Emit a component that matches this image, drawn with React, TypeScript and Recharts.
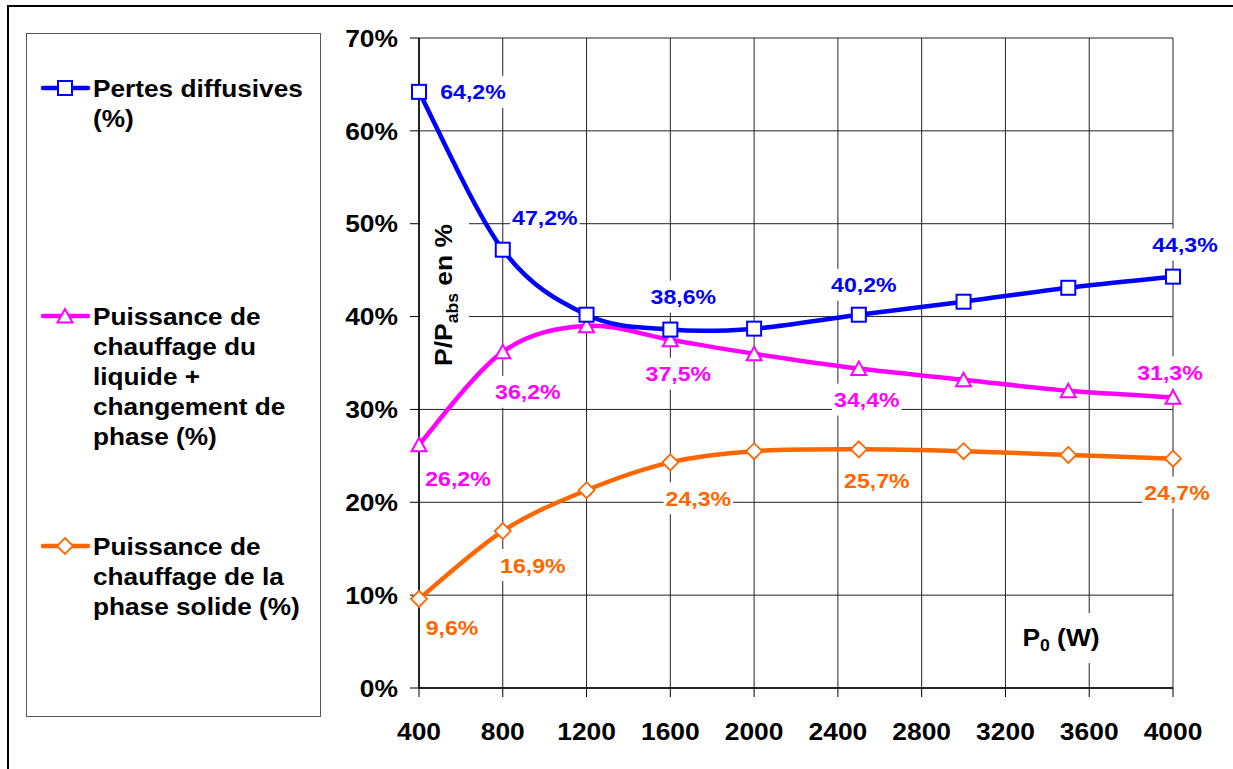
import React from 'react';
import { LineChart, Line, XAxis, YAxis, CartesianGrid, LabelList, Label } from 'recharts';

// P0 (W) and the three shares of absorbed power (%)
const powerW = [400, 800, 1200, 1600, 2000, 2500, 3000, 3500, 4000];
const pertesDiffusives = [64.2, 47.2, 40.2, 38.6, 38.7, 40.2, 41.6, 43.1, 44.3];
const chauffageLiquide = [26.2, 36.2, 39.0, 37.5, 36.0, 34.4, 33.2, 32.0, 31.3];
const chauffagePhaseSolide = [9.6, 16.9, 21.3, 24.3, 25.5, 25.7, 25.5, 25.1, 24.7];

const xTicks = [400, 800, 1200, 1600, 2000, 2400, 2800, 3200, 3600, 4000];
const yTicks = [0, 10, 20, 30, 40, 50, 60, 70];
const labelledPoints = [0, 1, 3, 5, 8];

const legendPertes = ['Pertes diffusives', '(%)'];
const legendLiquide = ['Puissance de', 'chauffage du', 'liquide +', 'changement de', 'phase (%)'];
const legendSolide = ['Puissance de', 'chauffage de la', 'phase solide (%)'];

const BLUE = '#0000FF';
const MAGENTA = '#FF00FF';
const ORANGE = '#FF6600';
const FONT = '"Liberation Sans", Arial, sans-serif';
const STRETCH = 1.1;

const rows = powerW.map((p, i) => ({
  p0: p,
  pertes: pertesDiffusives[i],
  liquide: chauffageLiquide[i],
  solide: chauffagePhaseSolide[i],
}));

// label offsets from the point (dx, dy of the label centre)
const blueOffsets = { 0: [54, 0], 1: [42, -32], 3: [13, -33], 5: [5, -30], 8: [12, -32] };
const magentaOffsets = { 0: [39, 34], 1: [25, 40], 3: [8, 34], 5: [8, 31], 8: [-3, -25] };
const orangeOffsets = { 0: [33, 29], 1: [30, 34], 3: [28, 36], 5: [18, 31], 8: [4, 34] };

// excel-like smoothed line (bezier through the points)
class ExcelSmooth {
  ctx: any;
  pts: number[][] = [];
  constructor(ctx) {
    this.ctx = ctx;
  }
  areaStart() {}
  areaEnd() {}
  lineStart() {
    this.pts = [];
  }
  point(x, y) {
    this.pts.push([+x, +y]);
  }
  lineEnd() {
    const p = this.pts;
    const c = this.ctx;
    if (!p.length) return;
    c.moveTo(p[0][0], p[0][1]);
    for (let i = 0; i < p.length - 1; i++) {
      const p0 = p[Math.max(i - 1, 0)];
      const p1 = p[i];
      const p2 = p[i + 1];
      const p3 = p[Math.min(i + 2, p.length - 1)];
      c.bezierCurveTo(
        p1[0] + (p2[0] - p0[0]) / 6, p1[1] + (p2[1] - p0[1]) / 6,
        p2[0] - (p3[0] - p1[0]) / 6, p2[1] - (p3[1] - p1[1]) / 6,
        p2[0], p2[1]
      );
    }
  }
}
const excelCurve: any = (ctx) => new ExcelSmooth(ctx);

const charW = { ',': 0.278, '%': 0.889, ' ': 0.278 };
const textWidth = (s: string, size: number) =>
  s.split('').reduce((acc, ch) => acc + (charW[ch] ?? 0.556), 0) * size * STRETCH;

const Wide = ({ x, y, anchor = 'start', size, fill = '#000', sx = STRETCH, children }: any) => (
  <g transform={`translate(${x},${y}) scale(${sx},1)`}>
    <text x={0} y={0} textAnchor={anchor} fontSize={size} fill={fill} fontWeight="bold" fontFamily={FONT}>
      {children}
    </text>
  </g>
);

const Square = ({ cx, cy, color }) => (
  <rect x={cx - 7} y={cy - 7} width={14} height={14} fill="#fff" stroke={color} strokeWidth={2} />
);
const Triangle = ({ cx, cy, color }) => (
  <polygon points={`${cx},${cy - 7} ${cx + 7.5},${cy + 6.5} ${cx - 7.5},${cy + 6.5}`} fill="#fff" stroke={color} strokeWidth={2} />
);
const Diamond = ({ cx, cy, color }) => (
  <polygon points={`${cx},${cy - 8} ${cx + 8},${cy} ${cx},${cy + 8} ${cx - 8},${cy}`} fill="#fff" stroke={color} strokeWidth={1.8} />
);

const makeDot = (Shape, color) => (props) => {
  const { cx, cy, index } = props;
  if (cx == null || cy == null) return <g key={`e-${index}`} />;
  return <Shape key={`dot-${index}`} cx={cx} cy={cy} color={color} />;
};

const makeLabel = (color, offsets) => (props) => {
  const { x, y, value, index } = props;
  if (!labelledPoints.includes(index)) return null;
  const off = offsets[index];
  const text = `${Number(value).toFixed(1).replace('.', ',')}%`;
  const w = textWidth(text, 21) + 4;
  const cx = x + off[0];
  const cy = y + off[1];
  return (
    <g key={`lbl-${index}`}>
      <rect x={cx - w / 2} y={cy - 16} width={w} height={32} fill="#fff" />
      <Wide x={cx} y={cy + 7.5} anchor="middle" size={21} fill={color}>{text}</Wide>
    </g>
  );
};

const XTick = (props) => {
  const { x, y, payload } = props;
  return <Wide x={x} y={y + 43} anchor="middle" size={24}>{payload.value}</Wide>;
};
const YTick = (props) => {
  const { x, y, payload } = props;
  return <Wide x={x - 12} y={y + 8.7} anchor="end" size={24}>{`${payload.value}%`}</Wide>;
};

const YTitle = (props) => {
  const vb = props.viewBox;
  const px = vb.x + vb.width;
  const py = vb.y + 257;
  return (
    <g>
      <rect x={px + 1} y={py - 80} width={49} height={162} fill="#fff" />
      <g transform={`translate(${px + 33},${py}) rotate(-90) scale(${STRETCH},1)`}>
        <text textAnchor="middle" fontSize={24} fontWeight="bold" fontFamily={FONT} fill="#000">
          P/P<tspan fontSize={16} dy={6}>abs</tspan><tspan dy={-6}> en %</tspan>
        </text>
      </g>
    </g>
  );
};

const XTitle = (props) => {
  const vb = props.viewBox;
  const px = vb.x + vb.width - 112;
  const py = vb.y - 42;
  return (
    <g>
      <rect x={px - 46} y={py - 33} width={92} height={50} fill="#fff" />
      <g transform={`translate(${px},${py}) scale(${STRETCH},1)`}>
        <text textAnchor="middle" fontSize={24} fontWeight="bold" fontFamily={FONT} fill="#000">
          P<tspan fontSize={16} dy={5}>0</tspan><tspan dy={-5}> (W)</tspan>
        </text>
      </g>
    </g>
  );
};

const LegendItem = ({ y, lines, Shape, color }) => (
  <g>
    <line x1={43} y1={y} x2={88} y2={y} stroke={color} strokeWidth={4.5} strokeLinecap="round" />
    <Shape cx={65} cy={y} color={color} />
    {lines.map((t, i) => (
      <Wide key={t + i} x={93} y={y + 9 + i * 30} size={23} sx={1.14}>{t}</Wide>
    ))}
  </g>
);

export default function App() {
  return (
    <div style={{ position: 'absolute', left: 0, top: 0, width: 1233, height: 769, background: '#fff', overflow: 'hidden' }}>
      <div style={{ position: 'absolute', left: 7, top: 5, width: 1240, height: 780, borderTop: '2px solid #000', borderLeft: '2px solid #000' }} />
      <div style={{ position: 'absolute', left: 0, top: 0 }}>
        <LineChart width={1233} height={769} data={rows} margin={{ top: 38, right: 60, bottom: 21, left: 359 }}>
          <CartesianGrid stroke="#222" strokeWidth={1} />
          <XAxis
            dataKey="p0"
            type="number"
            domain={[400, 4000]}
            ticks={xTicks}
            height={60}
            tickSize={9}
            tickMargin={0}
            tick={<XTick />}
            axisLine={{ stroke: '#000', strokeWidth: 1.5 }}
            tickLine={{ stroke: '#000' }}
          >
            <Label content={<XTitle />} />
          </XAxis>
          <YAxis
            type="number"
            domain={[0, 70]}
            ticks={yTicks}
            width={60}
            tickSize={9}
            tickMargin={0}
            tick={<YTick />}
            axisLine={{ stroke: '#000', strokeWidth: 1.5 }}
            tickLine={{ stroke: '#000' }}
          >
            <Label content={<YTitle />} />
          </YAxis>
          <Line dataKey="solide" type={excelCurve} stroke={ORANGE} strokeWidth={4.5} dot={makeDot(Diamond, ORANGE)} activeDot={false} isAnimationActive={false}>
            <LabelList dataKey="solide" content={makeLabel(ORANGE, orangeOffsets)} />
          </Line>
          <Line dataKey="liquide" type={excelCurve} stroke={MAGENTA} strokeWidth={4.5} dot={makeDot(Triangle, MAGENTA)} activeDot={false} isAnimationActive={false}>
            <LabelList dataKey="liquide" content={makeLabel(MAGENTA, magentaOffsets)} />
          </Line>
          <Line dataKey="pertes" type={excelCurve} stroke={BLUE} strokeWidth={4.5} dot={makeDot(Square, BLUE)} activeDot={false} isAnimationActive={false}>
            <LabelList dataKey="pertes" content={makeLabel(BLUE, blueOffsets)} />
          </Line>
        </LineChart>
      </div>
      <svg width={330} height={730} style={{ position: 'absolute', left: 0, top: 0 }}>
        <rect x={26.5} y={33.5} width={294} height={683} fill="#fff" stroke="#555" strokeWidth={1} />
        <LegendItem y={88} lines={legendPertes} Shape={Square} color={BLUE} />
        <LegendItem y={316} lines={legendLiquide} Shape={Triangle} color={MAGENTA} />
        <LegendItem y={546} lines={legendSolide} Shape={Diamond} color={ORANGE} />
      </svg>
    </div>
  );
}
